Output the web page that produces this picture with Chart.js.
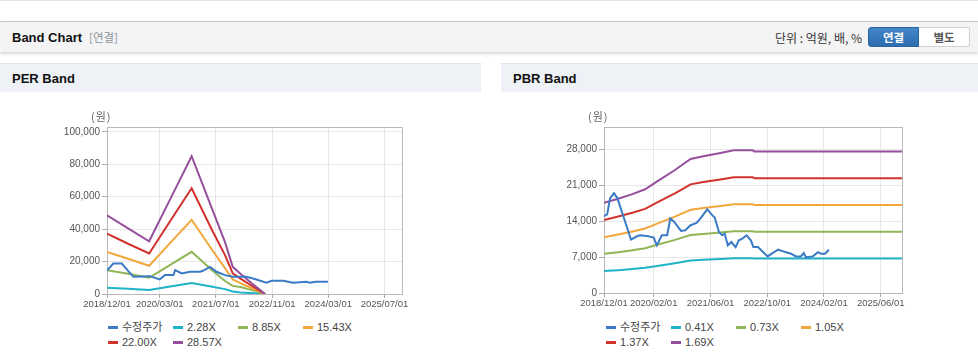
<!DOCTYPE html>
<html>
<head>
<meta charset="utf-8">
<script src="https://cdn.jsdelivr.net/npm/chart.js@4.4.1/dist/chart.umd.min.js"></script>
<style>
body { margin: 0; width: 978px; height: 362px; overflow: hidden; background: #fff; position: relative;
       font-family: "Liberation Sans", "Noto Sans CJK KR", sans-serif; }
.topline { position: absolute; left: 0; top: 0; width: 978px; height: 1px; background: #e2e2e2; }
.hdr { position: absolute; left: 0; top: 21px; width: 978px; height: 30px; background: #f4f4f4;
       border-top: 1px solid #c4c4c4; box-shadow: 0 2px 3px rgba(0,0,0,0.16); }
.hdr .title { position: absolute; left: 12px; top: 8px; font-size: 13px; font-weight: bold; color: #111; }
.hdr .sub { position: absolute; left: 89px; top: 8px; font-size: 11.5px; color: #8a949e; font-family: "Noto Sans CJK KR", sans-serif; line-height: 15px; }
.hdr .unit { position: absolute; right: 116px; top: 7px; font-size: 12px; color: #333; font-family: "Noto Sans CJK KR", sans-serif; line-height: 17px; }
.btn { position: absolute; top: 5px; height: 20px; width: 51px; text-align: center; font-size: 11.5px; font-weight: bold;
       line-height: 18px; font-family: "Noto Sans CJK KR", sans-serif; box-sizing: border-box; }
.btn.on { left: 868px; background: linear-gradient(#4388c9, #2c6bae); color: #fff; border: 1px solid #2a64a3; border-radius: 3px 0 0 3px; }
.btn.off { left: 919px; background: #fff; color: #555; border: 1px solid #cfcfcf; border-left: none; border-radius: 0 3px 3px 0; }
.phdr { position: absolute; top: 63px; height: 28px; background: #eef1f6; border-top: 1px solid #e0e4ea; }
.phdr span { position: absolute; left: 12px; top: 7px; font-size: 13px; font-weight: bold; color: #111; }
.box { position: absolute; top: 92px; height: 226px; }
.unitlbl { position: absolute; top: 108px; font-size: 11px; color: #666; font-family: "Noto Sans CJK KR", sans-serif; letter-spacing: 1px; }
.legend { position: absolute; top: 320px; height: 32px; }
.legend .item { position: absolute; height: 15px; font-size: 11px; color: #444; line-height: 15px; white-space: nowrap; }
.legend .item i { display: inline-block; width: 10px; height: 3px; margin-right: 4px; vertical-align: middle; position: relative; top: -1px; }
</style>
</head>
<body>
<div class="topline"></div>
<div class="hdr">
  <span class="title">Band Chart</span><span class="sub">[연결]</span>
  <span class="unit">단위 : 억원, 배, %</span>
  <div class="btn on">연결</div><div class="btn off">별도</div>
</div>
<div class="phdr" style="left:0;width:481px"><span>PER Band</span></div>
<div class="phdr" style="left:501px;width:477px"><span>PBR Band</span></div>

<div class="box" style="left:0;width:481px"><canvas id="per"></canvas></div>
<div class="box" style="left:501px;width:477px"><canvas id="pbr"></canvas></div>
<span class="unitlbl" style="left:91px">(원)</span>
<span class="unitlbl" style="left:588px">(원)</span>
<div class="legend" id="per-legend" style="left:108px;width:300px"></div>
<div class="legend" id="pbr-legend" style="left:606px;width:300px"></div>

<script>
// months counted from 2018/12/01
var MONTH_MAX = 84;
var COLORS = ['#3b7bc6', '#1fb3c8', '#90b556', '#f2a73c', '#d1322c', '#964f9c'];

// ---- PER band ----
var perNames = ['수정주가', '2.28X', '8.85X', '15.43X', '22.00X', '28.57X'];
var perTickMonths = [0, 15, 31, 47, 63, 79];
var perTickLabels = ['2018/12/01', '2020/03/01', '2021/07/01', '2022/11/01', '2024/03/01', '2025/07/01'];
var perYTicks = [0, 20000, 40000, 60000, 80000, 100000];

var perPriceMonths = [0, 1.8, 4.2, 7.5, 12.2, 15, 16.5, 18.9, 19.4, 21.3, 23.6, 26.5, 27.3, 29.3, 31.2, 33.6,
                      35.9, 39.7, 41.6, 45.4, 46.9, 50.2, 53, 56.8, 57.7, 59.5, 62.9];
var perPrice = [14500, 18800, 18800, 10600, 11000, 9000, 11650, 11650, 14700, 12700, 13700, 13700, 14300, 16750, 13700, 11650,
                10600, 10600, 9600, 6950, 8150, 8150, 6950, 7550, 6950, 7550, 7550];

var perBandMonths = [0, 6, 12, 18, 24.1, 30, 33.6, 35.8, 38, 40.7, 43, 45];
var per228 = [3900, 3200, 2500, 4600, 6800, 4500, 3000, 1500, 1000, 600, 300, 0];
var per885 = [14700, 12500, 10000, 18000, 26000, 14500, 8000, 5000, 4300, 2700, 1300, 0];
var per1543 = [26000, 21700, 17400, 31500, 45800, 27000, 16000, 9000, 6700, 4000, 1900, 0];
var per2200 = [37200, 31000, 25000, 45000, 65200, 39000, 24000, 12700, 9500, 5800, 2700, 0];
var per2857 = [48500, 40500, 32500, 58500, 85000, 52000, 32000, 16750, 12500, 7600, 3500, 0];

// ---- PBR band ----
var pbrNames = ['수정주가', '0.41X', '0.73X', '1.05X', '1.37X', '1.69X'];
var pbrTickMonths = [0, 14, 30, 46, 62, 78];
var pbrTickLabels = ['2018/12/01', '2020/02/01', '2021/06/01', '2022/10/01', '2024/02/01', '2025/06/01'];
var pbrYTicks = [0, 7000, 14000, 21000, 28000];

var pbrPriceMonths = [0, 0.9, 1.7, 2.8, 3.8, 5.5, 7.6, 9.3, 10.2, 12.5, 14.0, 14.9, 16.3, 17.8, 18.7, 19.8, 21.7, 22.9,
                      24.4, 26.1, 27.2, 29.1, 30.5, 31.2, 32.4, 33.3, 34.0, 34.9, 35.9, 37.1, 38.0, 39.0, 40.2, 41.4,
                      42.1, 43.4, 46.1, 47.5, 49.1, 50.3, 52.7, 54.1, 55.5, 56.3, 56.9, 58.8, 60.3, 61.2, 62.3, 63.4];
var pbrPrice = [15000, 15330, 18480, 19460, 18480, 14870, 10420, 11070, 11270, 11070, 10810, 9300, 11270, 11270, 14550, 13880, 12110, 12250,
                13230, 13680, 14550, 16320, 15200, 14740, 11910, 11270, 11600, 9300, 9950, 8960, 10280, 10620, 11270, 10280,
                8960, 8960, 7140, 7790, 8450, 8180, 7670, 7140, 7140, 7790, 7000, 7140, 7980, 7670, 7670, 8450];

var pbrBandMonths = [0, 4, 8, 11.6, 15, 20, 24.4, 28, 32.8, 36.6, 41.9, 42.4, 84];
var pbr041 = [4300, 4460, 4680, 4920, 5290, 5820, 6340, 6480, 6630, 6760, 6760, 6710, 6710];
var pbr073 = [7650, 7950, 8340, 8750, 9420, 10370, 11300, 11530, 11810, 12030, 12030, 11950, 11950];
var pbr105 = [10900, 11430, 11990, 12590, 13540, 14910, 16250, 16590, 16980, 17300, 17300, 17170, 17170];
var pbr137 = [14250, 14920, 15650, 16420, 17670, 19460, 21200, 21650, 22160, 22570, 22570, 22410, 22410];
var pbr169 = [17620, 18400, 19300, 20250, 21800, 24000, 26150, 26700, 27330, 27840, 27840, 27640, 27640];

function pts(months, vals) {
    return months.map(function(m, i) { return {x: m, y: vals[i]}; });
}

function makeDatasets(names, series) {
    return names.map(function(name, i) {
        return {
            label: name,
            data: series[i],
            borderColor: COLORS[i],
            backgroundColor: COLORS[i],
            borderWidth: 2,
            pointRadius: 0,
            tension: 0,
            order: i == 0 ? 0 : 6 - i
        };
    });
}

// grey frame round the plot area
var frame = {
    id: 'frame',
    beforeDatasetsDraw: function(chart) {
        var a = chart.chartArea, ctx = chart.ctx;
        ctx.save();
        ctx.strokeStyle = '#b9b9b9';
        ctx.lineWidth = 1;
        ctx.strokeRect(Math.round(a.left) + 0.5, Math.round(a.top) + 0.5,
                       Math.round(a.right - a.left), Math.round(a.bottom - a.top));
        ctx.restore();
    }
};

function fixedTicks(list) {
    return function(scale) {
        scale.ticks = list.map(function(v) { return {value: v}; });
    };
}

function makeChart(id, datasets, opts) {
    var tickFont = {family: '"Liberation Sans", sans-serif', size: 9.5};
    return new Chart(document.getElementById(id), {
        type: 'line',
        data: {datasets: datasets},
        plugins: [frame],
        options: {
            responsive: false,
            animation: false,
            layout: {padding: {left: 0, top: opts.top, right: opts.right, bottom: 0}},
            plugins: {legend: {display: false}, tooltip: {enabled: false}},
            scales: {
                x: {
                    type: 'linear', min: 0, max: MONTH_MAX,
                    afterBuildTicks: fixedTicks(opts.tickMonths),
                    afterFit: function(scale) { scale.height = opts.xHeight; },
                    ticks: {
                        autoSkip: false, maxRotation: 0, color: '#555', font: tickFont, padding: 1,
                        callback: function(v, i) { return opts.tickLabels[i]; }
                    },
                    grid: {color: '#e7e7e7', tickColor: '#aaa', tickLength: 4},
                    border: {color: '#aaa'}
                },
                y: {
                    min: 0, max: opts.yMax,
                    afterBuildTicks: fixedTicks(opts.yTicks),
                    afterFit: function(scale) { scale.width = opts.yWidth; },
                    ticks: {
                        color: '#555', font: {family: '"Liberation Sans", sans-serif', size: 10}, padding: 2,
                        callback: function(v) { return v.toLocaleString('en-US'); }
                    },
                    grid: {color: '#e7e7e7', tickColor: '#aaa', tickLength: 5},
                    border: {color: '#aaa'}
                }
            }
        }
    });
}

function buildLegend(elId, chart) {
    var $box = document.getElementById(elId);
    chart.data.datasets.forEach(function(ds, i) {
        var item = document.createElement('div');
        item.className = 'item';
        item.style.left = ((i % 4) * 65) + 'px';
        item.style.top = (Math.floor(i / 4) * 15) + 'px';
        var mark = document.createElement('i');
        mark.style.background = ds.borderColor;
        item.appendChild(mark);
        item.appendChild(document.createTextNode(ds.label));
        $box.appendChild(item);
    });
}

var perCanvas = document.getElementById('per');
perCanvas.width = 481; perCanvas.height = 226;
var pbrCanvas = document.getElementById('pbr');
pbrCanvas.width = 477; pbrCanvas.height = 226;

var perChart = makeChart('per', makeDatasets(perNames, [
    pts(perPriceMonths, perPrice),
    pts(perBandMonths, per228),
    pts(perBandMonths, per885),
    pts(perBandMonths, per1543),
    pts(perBandMonths, per2200),
    pts(perBandMonths, per2857)
]), {top: 35, right: 79, xHeight: 24, yWidth: 107, yMax: 103000, yTicks: perYTicks,
     tickMonths: perTickMonths, tickLabels: perTickLabels});

var pbrChart = makeChart('pbr', makeDatasets(pbrNames, [
    pts(pbrPriceMonths, pbrPrice),
    pts(pbrBandMonths, pbr041),
    pts(pbrBandMonths, pbr073),
    pts(pbrBandMonths, pbr105),
    pts(pbrBandMonths, pbr137),
    pts(pbrBandMonths, pbr169)
]), {top: 35, right: 76, xHeight: 25, yWidth: 103, yMax: 32400, yTicks: pbrYTicks,
     tickMonths: pbrTickMonths, tickLabels: pbrTickLabels});

buildLegend('per-legend', perChart);
buildLegend('pbr-legend', pbrChart);
</script>
</body>
</html>
